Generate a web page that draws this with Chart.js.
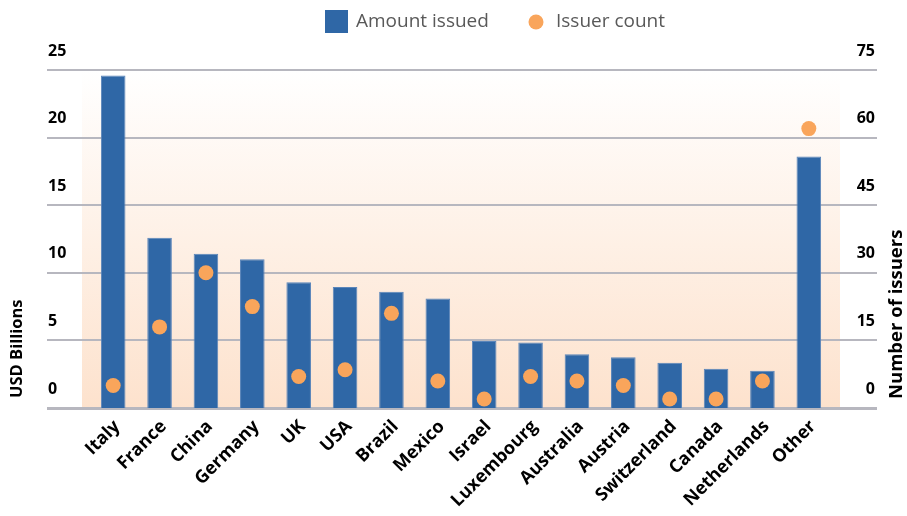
<!DOCTYPE html>
<html>
<head>
<meta charset="utf-8">
<script src="https://cdn.jsdelivr.net/npm/chart.js@4"></script>
<style>
  html, body { margin: 0; padding: 0; background: #fff; }
</style>
</head>
<body>
<canvas id="chart" width="907" height="516"></canvas>
<script>
const countries = ["Italy", "France", "China", "Germany", "UK", "USA", "Brazil", "Mexico",
    "Israel", "Luxembourg", "Australia", "Austria", "Switzerland", "Canada", "Netherlands", "Other"];
const amountIssued = [24.6, 12.6, 11.4, 11.0, 9.3, 8.95, 8.6, 8.1, 4.95, 4.85, 3.97, 3.75, 3.35, 2.9, 2.76, 18.6];
const issuerCount = [5, 18, 30, 22.5, 7, 8.5, 21, 6, 2, 7, 6, 5, 2, 2, 6, 62];
const amountTicks = [0, 5, 10, 15, 20, 25];
const countTicks = [0, 15, 30, 45, 60, 75];

const BLUE = '#2f67a6';
const ORANGE = '#f9a55b';
const GRID = '#b7b7bf';
const FONT = '"Open Sans", "DejaVu Sans", sans-serif';

function hLine(ctx, x1, x2, y) {
    ctx.beginPath();
    ctx.moveTo(x1, y);
    ctx.lineTo(x2, y);
    ctx.stroke();
}

// peach panel + long gridlines behind the bars
const backdrop = {
    id: 'backdrop',
    beforeDatasetsDraw(chart) {
        const {ctx, chartArea} = chart;
        const y = chart.scales.y;
        const y2 = chart.scales.y2;
        ctx.save();
        const g = ctx.createLinearGradient(0, chartArea.top, 0, chartArea.bottom);
        g.addColorStop(0, '#ffffff');
        g.addColorStop(1, '#fde2cd');
        ctx.fillStyle = g;
        ctx.fillRect(chartArea.left - 8, chartArea.top, chartArea.width + 16, chartArea.height);
        ctx.strokeStyle = GRID;
        ctx.lineWidth = 2;
        y.ticks.forEach(t => {
            hLine(ctx, y.left - 1, y2.right + 2, Math.round(y.getPixelForValue(t.value)));
        });
        ctx.restore();
    },
    afterDatasetsDraw(chart) {
        // baseline sits on top of the bar feet
        const {ctx} = chart;
        const y = chart.scales.y;
        ctx.save();
        ctx.strokeStyle = GRID;
        ctx.lineWidth = 2;
        hLine(ctx, y.left - 1, chart.scales.y2.right + 2, Math.round(y.getPixelForValue(0)) + 1);
        ctx.restore();
    }
};

// legend and axis titles
const decorations = {
    id: 'decorations',
    afterDraw(chart) {
        const ctx = chart.ctx;
        ctx.save();
        ctx.font = '19px ' + FONT;
        ctx.textBaseline = 'middle';
        ctx.fillStyle = BLUE;
        ctx.fillRect(325, 10, 23, 23);
        ctx.fillStyle = '#595959';
        ctx.fillText('Amount issued', 356, 22);
        ctx.fillStyle = ORANGE;
        ctx.beginPath();
        ctx.arc(536, 22, 7.5, 0, Math.PI * 2);
        ctx.fill();
        ctx.fillStyle = '#595959';
        ctx.fillText('Issuer count', 556, 22);
        ctx.restore();

        ctx.save();
        ctx.fillStyle = '#000';
        ctx.font = 'bold 16.5px ' + FONT;
        ctx.textBaseline = 'middle';
        ctx.textAlign = 'left';
        ctx.translate(17, 398);
        ctx.rotate(-Math.PI / 2);
        ctx.fillText('USD Billions', 0, 0);
        ctx.restore();

        ctx.save();
        ctx.fillStyle = '#000';
        ctx.font = 'bold 18.5px ' + FONT;
        ctx.textBaseline = 'middle';
        ctx.textAlign = 'left';
        ctx.translate(897, 399);
        ctx.rotate(-Math.PI / 2);
        ctx.fillText('Number of issuers', 0, 0);
        ctx.restore();
    }
};

new Chart(document.getElementById('chart'), {
    data: {
        labels: countries,
        datasets: [{
            type: 'line',
            label: 'Issuer count',
            data: issuerCount,
            yAxisID: 'y2',
            showLine: false,
            pointRadius: 7.5,
            pointHoverRadius: 7.5,
            pointBackgroundColor: ORANGE,
            pointBorderWidth: 0,
            order: 0
        }, {
            type: 'bar',
            label: 'Amount issued',
            data: amountIssued,
            yAxisID: 'y',
            backgroundColor: BLUE,
            borderColor: '#5a85ba',
            borderWidth: 1,
            categoryPercentage: 1,
            barPercentage: 0.53,
            order: 1
        }]
    },
    options: {
        responsive: false,
        animation: false,
        layout: { padding: { left: 48, right: 32, top: 70, bottom: 0 } },
        plugins: {
            legend: { display: false },
            tooltip: { enabled: false }
        },
        scales: {
            x: {
                grid: { display: false, drawTicks: false },
                border: { display: false },
                ticks: {
                    autoSkip: false,
                    minRotation: 45,
                    maxRotation: 45,
                    padding: 8,
                    labelOffset: 4,
                    color: '#000',
                    font: { family: FONT, size: 18, weight: 'bold' }
                },
                afterFit(scale) { scale.height = 108; }
            },
            y: {
                position: 'left',
                min: amountTicks[0],
                max: amountTicks[amountTicks.length - 1],
                grid: { display: false, drawTicks: false },
                border: { display: false },
                ticks: {
                    stepSize: amountTicks[1] - amountTicks[0],
                    crossAlign: 'far',
                    labelOffset: -19,
                    color: '#000',
                    font: { family: FONT, size: 16, weight: 'bold' }
                },
                afterFit(scale) { scale.width = 42; }
            },
            y2: {
                position: 'right',
                min: countTicks[0],
                max: countTicks[countTicks.length - 1],
                grid: { display: false, drawTicks: false },
                border: { display: false },
                ticks: {
                    stepSize: countTicks[1] - countTicks[0],
                    crossAlign: 'far',
                    labelOffset: -19,
                    color: '#000',
                    font: { family: FONT, size: 16, weight: 'bold' }
                },
                afterFit(scale) { scale.width = 43; }
            }
        }
    },
    plugins: [backdrop, decorations]
});
</script>
</body>
</html>
